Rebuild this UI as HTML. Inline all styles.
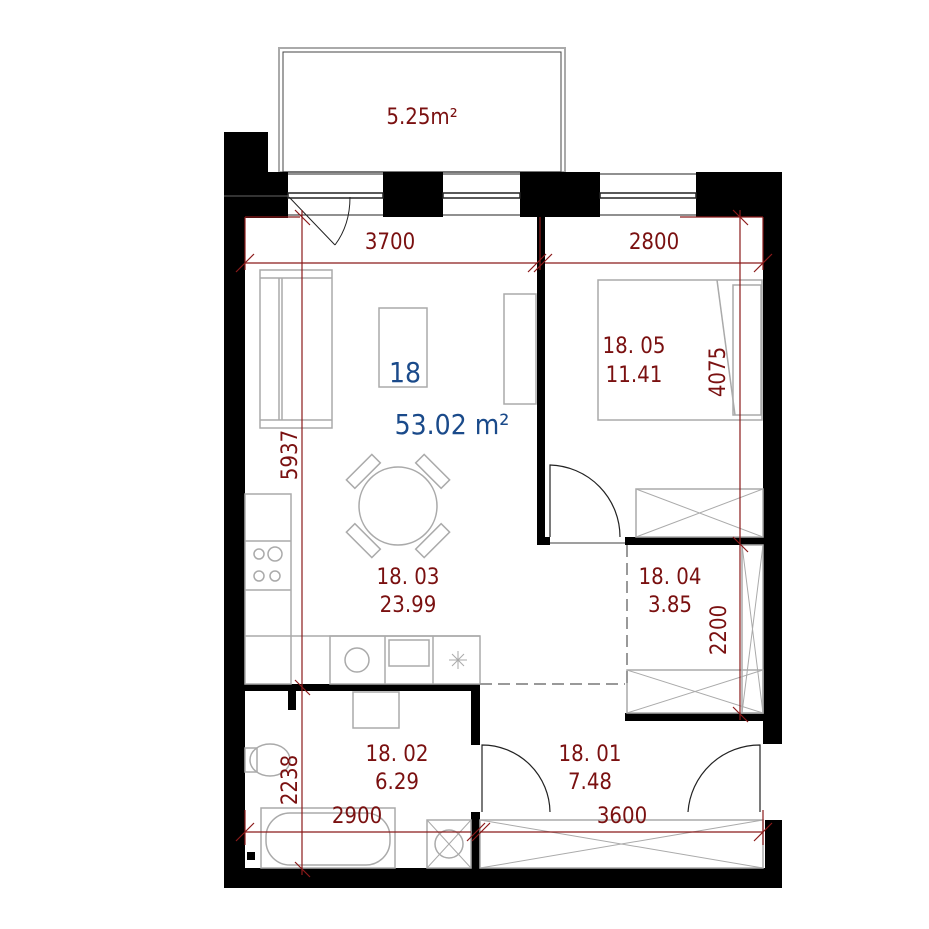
<!DOCTYPE html>
<html><head><meta charset="utf-8"><style>
html,body{margin:0;padding:0;background:#fff}
svg{display:block}
text{font-family:"DejaVu Sans Condensed","Liberation Sans",sans-serif}
</style></head><body>
<svg width="929" height="929" viewBox="0 0 929 929" xmlns="http://www.w3.org/2000/svg">
<rect x="279" y="48" width="286" height="124" fill="none" stroke="#aaa" stroke-width="2"/>
<rect x="283" y="52" width="278" height="120" fill="none" stroke="#444" stroke-width="1"/>
<text x="422" y="124" fill="#7a1010" font-size="22" text-anchor="middle">5.25m²</text>
<g fill="#000">
<rect x="224" y="132" width="44" height="86"/>
<rect x="224" y="172" width="64" height="46"/>
<rect x="383" y="172" width="60" height="45"/>
<rect x="520" y="172" width="80" height="45"/>
<rect x="696" y="172" width="86" height="45"/>
<rect x="224" y="132" width="21" height="756"/>
<rect x="763" y="172" width="19" height="572"/>
<rect x="765" y="820" width="17" height="68"/>
<rect x="224" y="868" width="558" height="20"/>
<rect x="537" y="217" width="8" height="328"/>
<rect x="537" y="537" width="13" height="8"/>
<rect x="625" y="537" width="138" height="8"/>
<rect x="625" y="713" width="138" height="8"/>
<rect x="245" y="684" width="235" height="7"/>
<rect x="288" y="684" width="8" height="26"/>
<rect x="471" y="684" width="9" height="61"/>
<rect x="471" y="812" width="9" height="56"/>
<rect x="247" y="852" width="8" height="8"/>
</g>
<g stroke="#222" stroke-width="1" fill="none">
<line x1="288" y1="174" x2="383" y2="174"/><line x1="288" y1="215" x2="383" y2="215"/>
<line x1="443" y1="174" x2="520" y2="174"/><line x1="443" y1="215" x2="520" y2="215"/>
<line x1="600" y1="174" x2="696" y2="174"/><line x1="600" y1="215" x2="696" y2="215"/>
<rect x="288" y="193" width="95" height="5" stroke-width="1.5"/>
<rect x="443" y="193" width="77" height="5" stroke-width="1.5"/>
<rect x="600" y="193" width="96" height="5" stroke-width="1.5"/>
<path d="M289 197 L335 245 M350 197 Q350 225 335 245"/>
<line x1="224" y1="196" x2="288" y2="196" stroke="#666"/>
</g>
<g stroke="#aaa" stroke-width="1.5" fill="none">
<rect x="260" y="270" width="72" height="158"/>
<line x1="260" y1="278" x2="332" y2="278"/><line x1="260" y1="420" x2="332" y2="420"/>
<line x1="279" y1="278" x2="279" y2="420"/><line x1="282" y1="278" x2="282" y2="420"/>
<rect x="379" y="308" width="48" height="79"/>
<rect x="504" y="294" width="32" height="110"/>
<circle cx="398" cy="506" r="39"/>
<g transform="rotate(-45 398 506)"><rect x="380" y="451" width="36" height="12"/><rect x="380" y="549" width="36" height="12"/></g>
<g transform="rotate(45 398 506)"><rect x="380" y="451" width="36" height="12"/><rect x="380" y="549" width="36" height="12"/></g>
<rect x="245" y="494" width="46" height="190"/>
<line x1="245" y1="541" x2="291" y2="541"/><line x1="245" y1="590" x2="291" y2="590"/><line x1="245" y1="636" x2="480" y2="636"/>
<circle cx="259" cy="554" r="5"/><circle cx="275" cy="554" r="7"/><circle cx="259" cy="576" r="5"/><circle cx="275" cy="576" r="5"/>
<rect x="330" y="636" width="150" height="48"/>
<line x1="385" y1="636" x2="385" y2="684"/><line x1="433" y1="636" x2="433" y2="684"/>
<circle cx="357" cy="660" r="12"/>
<rect x="389" y="640" width="40" height="26"/>
<path d="M449 660 h18 M458 651 v18 M452 654 l12 12 M464 654 l-12 12" stroke-width="1"/>
<rect x="598" y="280" width="164" height="140"/>
<rect x="733" y="285" width="28" height="130"/>
<path d="M717 280 L735 415"/>
<rect x="636" y="489" width="127" height="48"/><path d="M636 489 L763 537 M763 489 L636 537" stroke-width="1"/>
<rect x="742" y="545" width="21" height="168"/><path d="M742 545 L763 713 M763 545 L742 713" stroke-width="1"/>
<rect x="627" y="670" width="136" height="43"/><path d="M627 670 L763 713 M763 670 L627 713" stroke-width="1"/>
<rect x="480" y="820" width="283" height="48"/><path d="M480 820 L763 868 M763 820 L480 868" stroke-width="1"/>
<rect x="353" y="692" width="46" height="36"/>
<rect x="261" y="808" width="134" height="60"/><rect x="266" y="813" width="124" height="52" rx="24"/>
<rect x="427" y="820" width="44" height="48"/><circle cx="449" cy="844" r="14"/><path d="M427 820 L471 868 M471 820 L427 868" stroke-width="1"/>
<ellipse cx="270" cy="760" rx="20" ry="16"/><rect x="245" y="748" width="12" height="24"/>
</g>
<line x1="627" y1="545" x2="627" y2="685" stroke="#999" stroke-width="2" stroke-dasharray="12,6"/>
<line x1="480" y1="684" x2="625" y2="684" stroke="#999" stroke-width="2" stroke-dasharray="12,6"/>
<g stroke="#222" stroke-width="1.2" fill="none">
<path d="M550 537 V465 A72 72 0 0 1 620 537"/>
<path d="M482 812 V745 A68 68 0 0 1 550 812"/>
<path d="M760 812 V745 A72 72 0 0 0 688 812"/>
<line x1="550" y1="543" x2="625" y2="543" stroke="#666"/>
</g>
<g stroke="#8b1a1a" stroke-width="1.2" fill="none">
<line x1="245" y1="263" x2="537" y2="263"/><line x1="545" y1="263" x2="763" y2="263"/>
<line x1="245" y1="217" x2="245" y2="270"/><line x1="763" y1="217" x2="763" y2="270"/>
<line x1="540" y1="217" x2="540" y2="270"/>
<path d="M236 272 l18 -18 M528 272 l18 -18 M534 272 l18 -18 M754 272 l18 -18"/>
<line x1="302" y1="210" x2="302" y2="875"/>
<path d="M295 210 l15 15 M295 680 l15 15 M295 862 l15 15"/>
<line x1="740" y1="210" x2="740" y2="720"/>
<path d="M733 210 l15 15 M733 537 l15 15 M733 707 l15 15"/>
<line x1="245" y1="832" x2="471" y2="832"/><line x1="480" y1="832" x2="763" y2="832"/>
<line x1="245" y1="810" x2="245" y2="845"/><line x1="763" y1="810" x2="763" y2="845"/>
<path d="M236 841 l18 -18 M467 841 l18 -18 M472 841 l18 -18 M754 841 l18 -18"/>
<line x1="245" y1="217" x2="300" y2="217"/><line x1="680" y1="217" x2="763" y2="217"/>
</g>
<g fill="#7a1010" font-size="22" text-anchor="middle">
<text x="390" y="249">3700</text>
<text x="654" y="249">2800</text>
<text x="634" y="353">18. 05</text><text x="634" y="382">11.41</text>
<text x="408" y="584">18. 03</text><text x="408" y="612">23.99</text>
<text x="670" y="584">18. 04</text><text x="670" y="612">3.85</text>
<text x="397" y="761">18. 02</text><text x="397" y="789">6.29</text>
<text x="590" y="761">18. 01</text><text x="590" y="789">7.48</text>
<text x="357" y="823">2900</text>
<text x="622" y="823">3600</text>
<text transform="translate(297 455) rotate(-90)">5937</text>
<text transform="translate(725 372) rotate(-90)">4075</text>
<text transform="translate(726 630) rotate(-90)">2200</text>
<text transform="translate(297 780) rotate(-90)">2238</text>
</g>
<text x="405" y="382" fill="#1a4a8a" font-size="28" text-anchor="middle">18</text>
<text x="452" y="434" fill="#1a4a8a" font-size="28" text-anchor="middle">53.02 m²</text>
</svg>
</body></html>
